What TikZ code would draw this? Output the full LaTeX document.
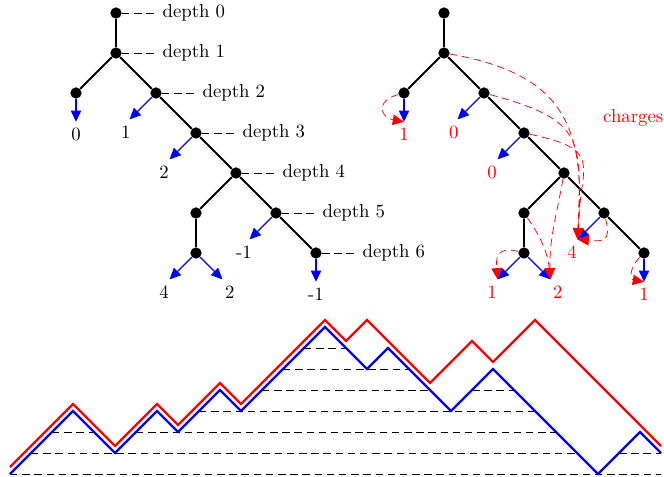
\documentclass[tikz,border=0pt]{standalone}
\usepackage{amsmath,amssymb}
\usepackage{tikz}
\usetikzlibrary{arrows.meta}

\begin{document}
\begin{tikzpicture}[x=0.75cm, y=0.75cm,
    vertex/.style={circle, fill=black, inner sep=0pt, minimum size=6pt},
    edge/.style={line width=1pt},
    move/.style={blue, semithick, -{Triangle[length=6pt,width=5.5pt]}},
    charge/.style={red, thin, dash pattern=on 4pt off 2.5pt, -{Triangle[length=6pt,width=5.5pt]}},
    guide/.style={dash pattern=on 4pt off 2.5pt}]
  \useasboundingbox (-2.9,0.325) rectangle (13.7,-11.6);

  \node[vertex] (l0) at (0,0) {};
  \node[vertex] (l1) at (0,-1) {};
  \node[vertex] (la) at (-1,-2) {};
  \node[vertex] (l2) at (1,-2) {};
  \node[vertex] (l3) at (2,-3) {};
  \node[vertex] (l4) at (3,-4) {};
  \node[vertex] (lb) at (2,-5) {};
  \node[vertex] (l5) at (4,-5) {};
  \node[vertex] (lc) at (2,-6) {};
  \node[vertex] (l6) at (5,-6) {};
  \draw[edge] (l0) -- (l1) -- (l2) -- (l3) -- (l4) -- (l5) -- (l6);
  \draw[edge] (l1) -- (la);
  \draw[edge] (l4) -- (lb) -- (lc);

  \node[right] (d0) at (1,0) {depth 0};
  \node[right] (d1) at (1,-1) {depth 1};
  \node[right] (d2) at (2,-2) {depth 2};
  \node[right] (d3) at (3,-3) {depth 3};
  \node[right] (d4) at (4,-4) {depth 4};
  \node[right] (d5) at (5,-5) {depth 5};
  \node[right] (d6) at (6,-6) {depth 6};
  \draw[guide] (l0) -- (d0);
  \draw[guide] (l1) -- (d1);
  \draw[guide] (l2) -- (d2);
  \draw[guide] (l3) -- (d3);
  \draw[guide] (l4) -- (d4);
  \draw[guide] (l5) -- (d5);
  \draw[guide] (l6) -- (d6);

  \coordinate (la-t) at (-1,-2.72);
  \coordinate (l2-t) at (0.34,-2.66);
  \coordinate (l3-t) at (1.34,-3.66);
  \coordinate (l5-t) at (3.34,-5.66);
  \coordinate (lc-t) at (1.34,-6.66);
  \coordinate (lc-u) at (2.66,-6.66);
  \coordinate (l6-t) at (5,-6.72);
  \draw[move] (la) -- (la-t);
  \draw[move] (l2) -- (l2-t);
  \draw[move] (l3) -- (l3-t);
  \draw[move] (l5) -- (l5-t);
  \draw[move] (lc) -- (lc-t);
  \draw[move] (lc) -- (lc-u);
  \draw[move] (l6) -- (l6-t);
  \node[below] (la-q) at (la-t) {0};
  \node[below, xshift=-2pt] (l2-q) at (l2-t) {1};
  \node[below, xshift=-3pt] (l3-q) at (l3-t) {2};
  \node[below, xshift=-3pt] (l5-q) at (l5-t) {-1};
  \node[below, xshift=-3pt] (lc-q) at (lc-t) {4};
  \node[below, xshift=4pt] (lc-p) at (lc-u) {2};
  \node[below] (l6-q) at (l6-t) {-1};

  \begin{scope}[shift={(8.2,0)}]
    \node[vertex] (r0) at (0,0) {};
    \node[vertex] (r1) at (0,-1) {};
    \node[vertex] (ra) at (-1,-2) {};
    \node[vertex] (r2) at (1,-2) {};
    \node[vertex] (r3) at (2,-3) {};
    \node[vertex] (r4) at (3,-4) {};
    \node[vertex] (rb) at (2,-5) {};
    \node[vertex] (r5) at (4,-5) {};
    \node[vertex] (rc) at (2,-6) {};
    \node[vertex] (r6) at (5,-6) {};
    \draw[edge] (r0) -- (r1) -- (r2) -- (r3) -- (r4) -- (r5) -- (r6);
    \draw[edge] (r1) -- (ra);
    \draw[edge] (r4) -- (rb) -- (rc);

    \coordinate (ra-t) at (-1,-2.72);
    \coordinate (r2-t) at (0.34,-2.66);
    \coordinate (r3-t) at (1.34,-3.66);
    \coordinate (r5-t) at (3.34,-5.66);
    \coordinate (rc-t) at (1.34,-6.66);
    \coordinate (rc-u) at (2.66,-6.66);
    \coordinate (r6-t) at (5,-6.72);
    \draw[move] (ra) -- (ra-t);
    \draw[move] (r2) -- (r2-t);
    \draw[move] (r3) -- (r3-t);
    \draw[move] (r5) -- (r5-t);
    \draw[move] (rc) -- (rc-t);
    \draw[move] (rc) -- (rc-u);
    \draw[move] (r6) -- (r6-t);

    \draw[charge] (ra) to[out=195, in=170, looseness=2.2] (ra-t);
    \draw[charge] (r1) to[out=-10, in=86, looseness=1.3] (r5-t);
    \draw[charge] (r2) to[out=-15, in=88, looseness=1.5] (r5-t);
    \draw[charge] (r3) to[out=-12, in=88, looseness=1.7] (r5-t);
    \draw[charge] (r5) to[out=-75, in=-5, looseness=1.8] (r5-t);
    \draw[charge] (r4) to[out=-100, in=92] (rc-u);
    \draw[charge] (rb) to[out=-55, in=96] (rc-u);
    \draw[charge] (rc) to[out=165, in=95, looseness=1.6] (rc-t);
    \draw[charge] (r6) to[out=225, in=170, looseness=1.5] (r6-t);

    \node[below, red] (ra-q) at (ra-t) {1};
    \node[below, red, xshift=-2pt] (r2-q) at (r2-t) {0};
    \node[below, red, xshift=-3pt] (r3-q) at (r3-t) {0};
    \node[below, red, xshift=-3pt] (r5-q) at (r5-t) {4};
    \node[below, red, xshift=-3pt] (rc-q) at (rc-t) {1};
    \node[below, red, xshift=4pt] (rc-p) at (rc-u) {2};
    \node[below, red] (r6-q) at (r6-t) {1};
    \node[red] (chg) at (4.73,-2.63) {charges};
  \end{scope}

  \begin{scope}[shift={(-2.65,-11.525)}, scale=0.525]
    \draw[guide] (0,0) -- (31,0);
    \draw[guide] (1,1) -- (27,1) (29,1) -- (31,1);
    \draw[guide] (2,2) -- (4,2) (6,2) -- (26,2);
    \draw[guide] (9,3) -- (25,3);
    \draw[guide] (12,4) -- (20,4) (22,4) -- (24,4);
    \draw[guide] (13,5) -- (19,5);
    \draw[guide] (14,6) -- (16,6);
    \draw[blue, very thick] (0,0) -- (3,3) -- (5,1) -- (7,3) -- (8,2) -- (10,4) -- (11,3) -- (15,7) -- (17,5)
      -- (18,6) -- (21,3) -- (23,5) -- (28,0) -- (30,2) -- (31,1);
  \end{scope}
  \begin{scope}[shift={(-2.65,-11.35)}, scale=0.525]
    \draw[red, very thick] (0,0) -- (3,3) -- (5,1) -- (7,3) -- (8,2) -- (10,4) -- (11,3) -- (15,7) -- (16,6)
      -- (17,7) -- (20,4) -- (22,6) -- (23,5) -- (25,7) -- (31,1);
  \end{scope}
\end{tikzpicture}
\end{document}
